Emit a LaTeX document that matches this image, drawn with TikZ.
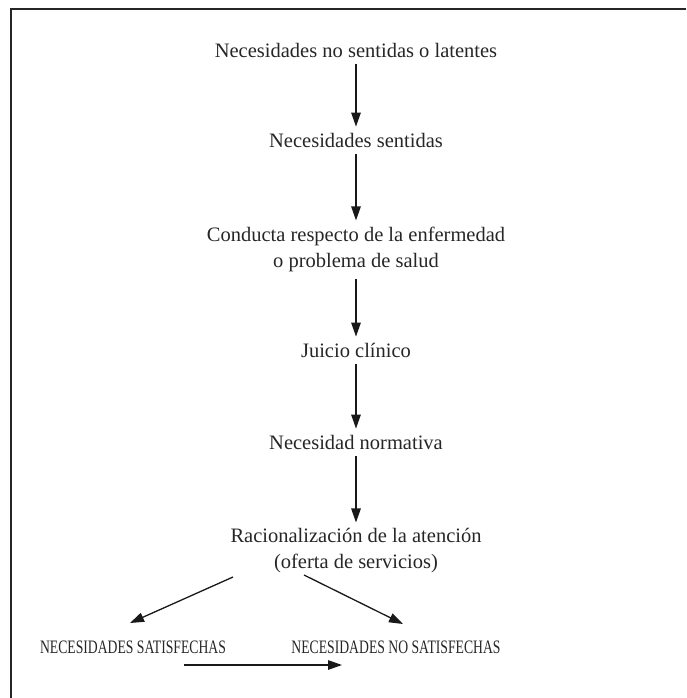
\documentclass[tikz,border=0pt]{standalone}
\usepackage{fontspec}
\setmainfont{Liberation Serif}
\usetikzlibrary{arrows.meta}
\begin{document}
\begin{tikzpicture}[x=1pt,y=-1pt,
  lbl/.style={inner sep=0pt, font=\fontsize{20.5}{26}\selectfont, text=black!85, align=center},
  caps/.style={inner sep=0pt, font=\fontsize{19}{22}\selectfont, text=black!85},
  arrbase/.style={line width=1.3pt, draw=black!90, -{Triangle[length=14pt,width=9.5pt]}},
  arr/.style={arrbase, shorten <=7pt, shorten >=6pt}]
\useasboundingbox (0,0) rectangle (686,698);
\draw[line width=2.2pt, black!85] (11,698) -- (11,9) -- (686,9);
\node[lbl] (n1) at (356,50) {Necesidades no sentidas o latentes};
\node[lbl] (n2) at (356,140) {Necesidades sentidas};
\node[lbl] (n3) at (356,249) {Conducta respecto de la enfermedad\\o problema de salud};
\node[lbl] (n4) at (356,350) {Juicio clínico};
\node[lbl] (n5) at (356,442) {Necesidad normativa};
\node[lbl] (n6) at (356,551) {Racionalización de la atención\\(oferta de servicios)};
\node[caps] (b1) at (133,647) {\scalebox{0.72}[1]{NECESIDADES SATISFECHAS}};
\node[caps] (b2) at (396,647) {\scalebox{0.72}[1]{NECESIDADES NO SATISFECHAS}};
\draw[arr] (n1) -- (n2);
\draw[arr] (n2) -- (n3);
\draw[arr] (n3) -- (n4);
\draw[arr] (n4) -- (n5);
\draw[arr] (n5) -- (n6);
\coordinate (d1s) at (233,577);
\coordinate (d1e) at (130,623);
\coordinate (d2s) at (304,575);
\coordinate (d2e) at (403,624);
\coordinate (h1) at (184,665);
\coordinate (h2) at (342,665);
\draw[arrbase] (d1s) -- (d1e);
\draw[arrbase] (d2s) -- (d2e);
\draw[arrbase] (h1) -- (h2);
\end{tikzpicture}
\end{document}
